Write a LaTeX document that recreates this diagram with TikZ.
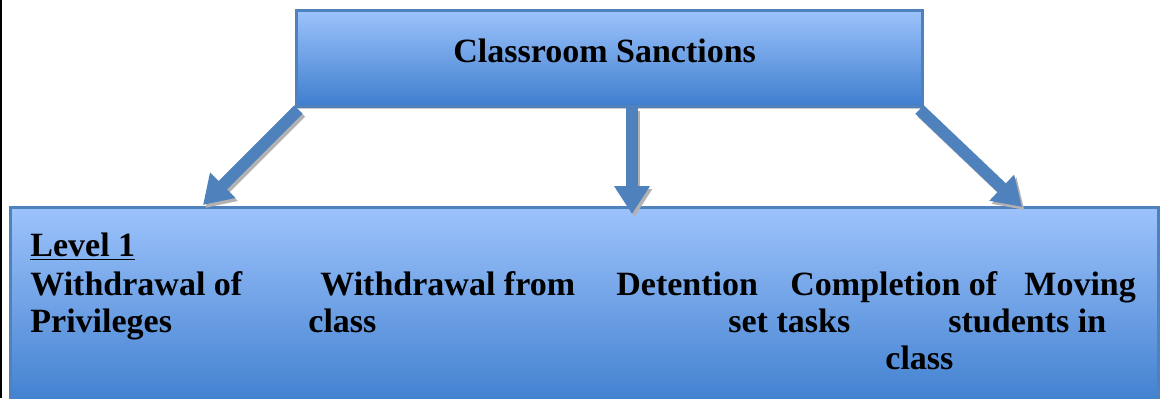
\documentclass[tikz,border=0pt]{standalone}
\usepackage{fontspec}
\setmainfont{Liberation Serif}
\usepackage{tikz}
\usetikzlibrary{arrows.meta, positioning, shadows}

\definecolor{rimblue}{RGB}{79,129,189}
\definecolor{lightblue}{RGB}{157,195,252}
\definecolor{deepblue}{RGB}{62,126,206}

\begin{document}
\begin{tikzpicture}[
        x=0.5pt, y=-0.5pt,
        box/.style = {rectangle, draw=rimblue, line width=1.5pt, top color=lightblue, bottom color=deepblue, inner sep=0pt,
                      drop shadow={shadow xshift=0.8pt, shadow yshift=-1.6pt, opacity=0.35, fill=black!60}},
        words/.style = {anchor=base west, inner sep=0pt, font=\fontsize{17}{18.75}\selectfont\bfseries},
        arrow/.style = {draw=rimblue, line width=6pt, -{Triangle[width=17pt, length=14pt]},
                        preaction={draw=black!30, line width=6pt, -{Triangle[width=17pt, length=14pt]}, transform canvas={xshift=1.2pt, yshift=-1.5pt}}}
    ]
    \useasboundingbox (0,0) rectangle (1161,398);

    % --- BOXES ---
    \node[box, minimum width=313pt, minimum height=48pt] (sanctions) at (609,58) {};
    \node[box, minimum width=574pt, minimum height=102pt] (level) at (584,309) {};

    % left page rule
    \draw[black, line width=1pt] (1,0) -- (1,398);

    % --- TEXTS ---
    \node[words] (title) at (453,62) {Classroom Sanctions};
    \node[words] (levelone) at (30,256) {\underline{Level 1}};
    % line 2
    \node[words] (privA) at (30,295) {Withdrawal of};
    \node[words] (classA) at (320,295) {Withdrawal from};
    \node[words] (detention) at (616,295) {Detention};
    \node[words] (tasksA) at (790,295) {Completion of};
    \node[words] (movingA) at (1024,295) {Moving};
    % line 3
    \node[words] (privB) at (30,332) {Privileges};
    \node[words] (classB) at (308,332) {class};
    \node[words] (tasksB) at (728,332) {set tasks};
    \node[words] (movingB) at (948,332) {students in};
    % line 4
    \node[words] (movingC) at (885,369) {class};

    % --- ARROWS ---
    \coordinate (ltip) at (203,205);
    \coordinate (mtip) at (632,214);
    \coordinate (rtip) at (1022,207);
    \draw[arrow] ([xshift=2pt, yshift=-1pt]sanctions.south west) -- (ltip);
    \draw[arrow] (sanctions.south -| mtip) -- (mtip);
    \draw[arrow] ([xshift=-2pt, yshift=-1pt]sanctions.south east) -- (rtip);

\end{tikzpicture}
\end{document}
